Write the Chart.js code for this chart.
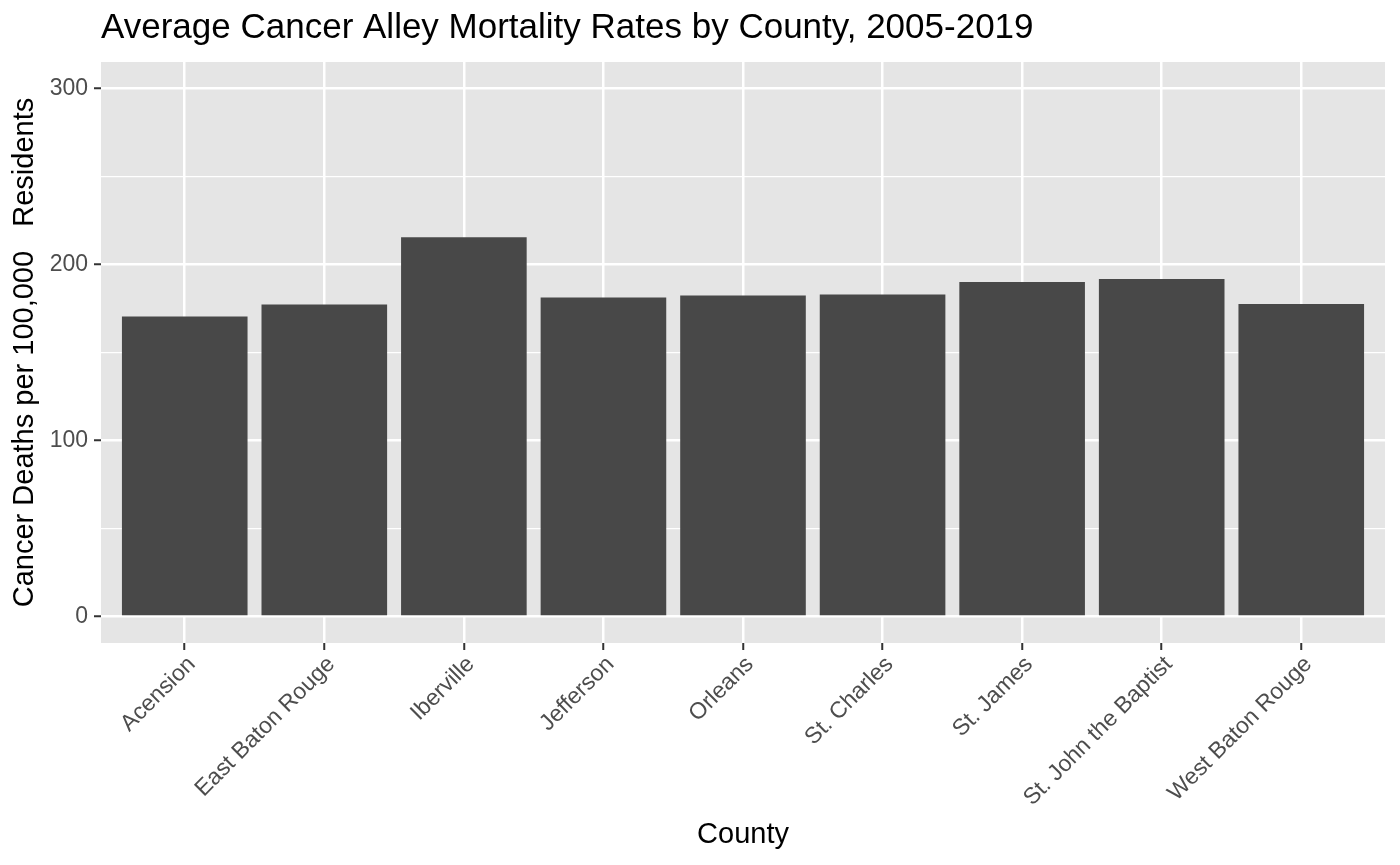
<!DOCTYPE html>
<html>
<head>
<meta charset="utf-8">
<script src="https://cdn.jsdelivr.net/npm/chart.js@4/dist/chart.umd.min.js"></script>
<style>
  html, body { margin: 0; padding: 0; background: #ffffff; }
  #chart { display: block; }
</style>
</head>
<body>
<canvas id="chart" width="1400" height="865"></canvas>
<script>
// Datos
var counties = ['Acension', 'East Baton Rouge', 'Iberville', 'Jefferson', 'Orleans',
                'St. Charles', 'St. James', 'St. John the Baptist', 'West Baton Rouge'];
var mortality = [170.5, 177.3, 215.5, 181.3, 182.4, 183.0, 190.0, 191.7, 177.5];
var yTicks = [0, 50, 100, 150, 200, 250, 300];
var yMajor = [0, 100, 200, 300];

var FONT = '"Liberation Sans", Arial, Helvetica, sans-serif';

// Fondo gris del panel (estilo ggplot)
var panelBg = {
    id: 'panelBg',
    beforeDraw: function(chart) {
        var a = chart.chartArea;
        var ctx = chart.ctx;
        ctx.save();
        ctx.fillStyle = '#E5E5E5';
        ctx.fillRect(a.left, a.top, a.right - a.left, a.bottom - a.top);
        ctx.restore();
    }
};

var points = counties.map(function(c, i) {
    return { x: i + 1, y: mortality[i] };
});

new Chart(document.getElementById('chart'), {
    type: 'bar',
    data: {
        datasets: [{
            data: points,
            backgroundColor: '#484848',
            borderWidth: 0,
            barPercentage: 0.9,
            categoryPercentage: 1.0
        }]
    },
    options: {
        responsive: false,
        animation: false,
        devicePixelRatio: 1,
        layout: { padding: { left: 0, right: 15, top: 0, bottom: 0 } },
        plugins: {
            legend: { display: false },
            tooltip: { enabled: false },
            title: {
                display: true,
                text: 'Average Cancer Alley Mortality Rates by County, 2005-2019',
                align: 'start',
                fullSize: false,
                color: '#000000',
                font: { family: FONT, size: 35, weight: 'normal' },
                padding: { top: 7, bottom: 13 }
            }
        },
        scales: {
            x: {
                type: 'linear',
                min: 0.4,
                max: 9.6,
                offset: false,
                afterBuildTicks: function(scale) {
                    scale.ticks = counties.map(function(c, i) { return { value: i + 1 }; });
                },
                afterFit: function(scale) { scale.height = 222; },
                border: { display: false },
                grid: {
                    offset: false,
                    color: '#FFFFFF',
                    lineWidth: 2.5,
                    drawTicks: true,
                    tickLength: 7,
                    tickColor: '#333333',
                    tickWidth: 2
                },
                ticks: {
                    autoSkip: false,
                    maxRotation: 45,
                    minRotation: 45,
                    padding: 1,
                    labelOffset: 7,
                    color: '#4D4D4D',
                    font: { family: FONT, size: 23 },
                    callback: function(value) { return counties[value - 1]; }
                },
                title: {
                    display: true,
                    text: 'County',
                    color: '#000000',
                    font: { family: FONT, size: 29 },
                    padding: { top: 0, bottom: 13 }
                }
            },
            y: {
                min: -15,
                max: 315,
                afterBuildTicks: function(scale) {
                    scale.ticks = yTicks.map(function(v) { return { value: v }; });
                },
                afterFit: function(scale) { scale.width = 101; },
                border: { display: false },
                grid: {
                    color: '#FFFFFF',
                    lineWidth: function(ctx) {
                        return yMajor.indexOf(ctx.tick.value) >= 0 ? 2.5 : 1.2;
                    },
                    drawTicks: true,
                    tickLength: 7,
                    tickColor: function(ctx) {
                        return yMajor.indexOf(ctx.tick.value) >= 0 ? '#333333' : 'rgba(0,0,0,0)';
                    },
                    tickWidth: 2
                },
                ticks: {
                    padding: 6,
                    color: '#4D4D4D',
                    font: { family: FONT, size: 23 },
                    callback: function(value) {
                        return yMajor.indexOf(value) >= 0 ? String(value) : '';
                    }
                },
                title: {
                    display: true,
                    text: 'Cancer Deaths per 100,000   Residents',
                    color: '#000000',
                    font: { family: FONT, size: 29 },
                    padding: { top: 8, bottom: 0 }
                }
            }
        }
    },
    plugins: [panelBg]
});
</script>
</body>
</html>
